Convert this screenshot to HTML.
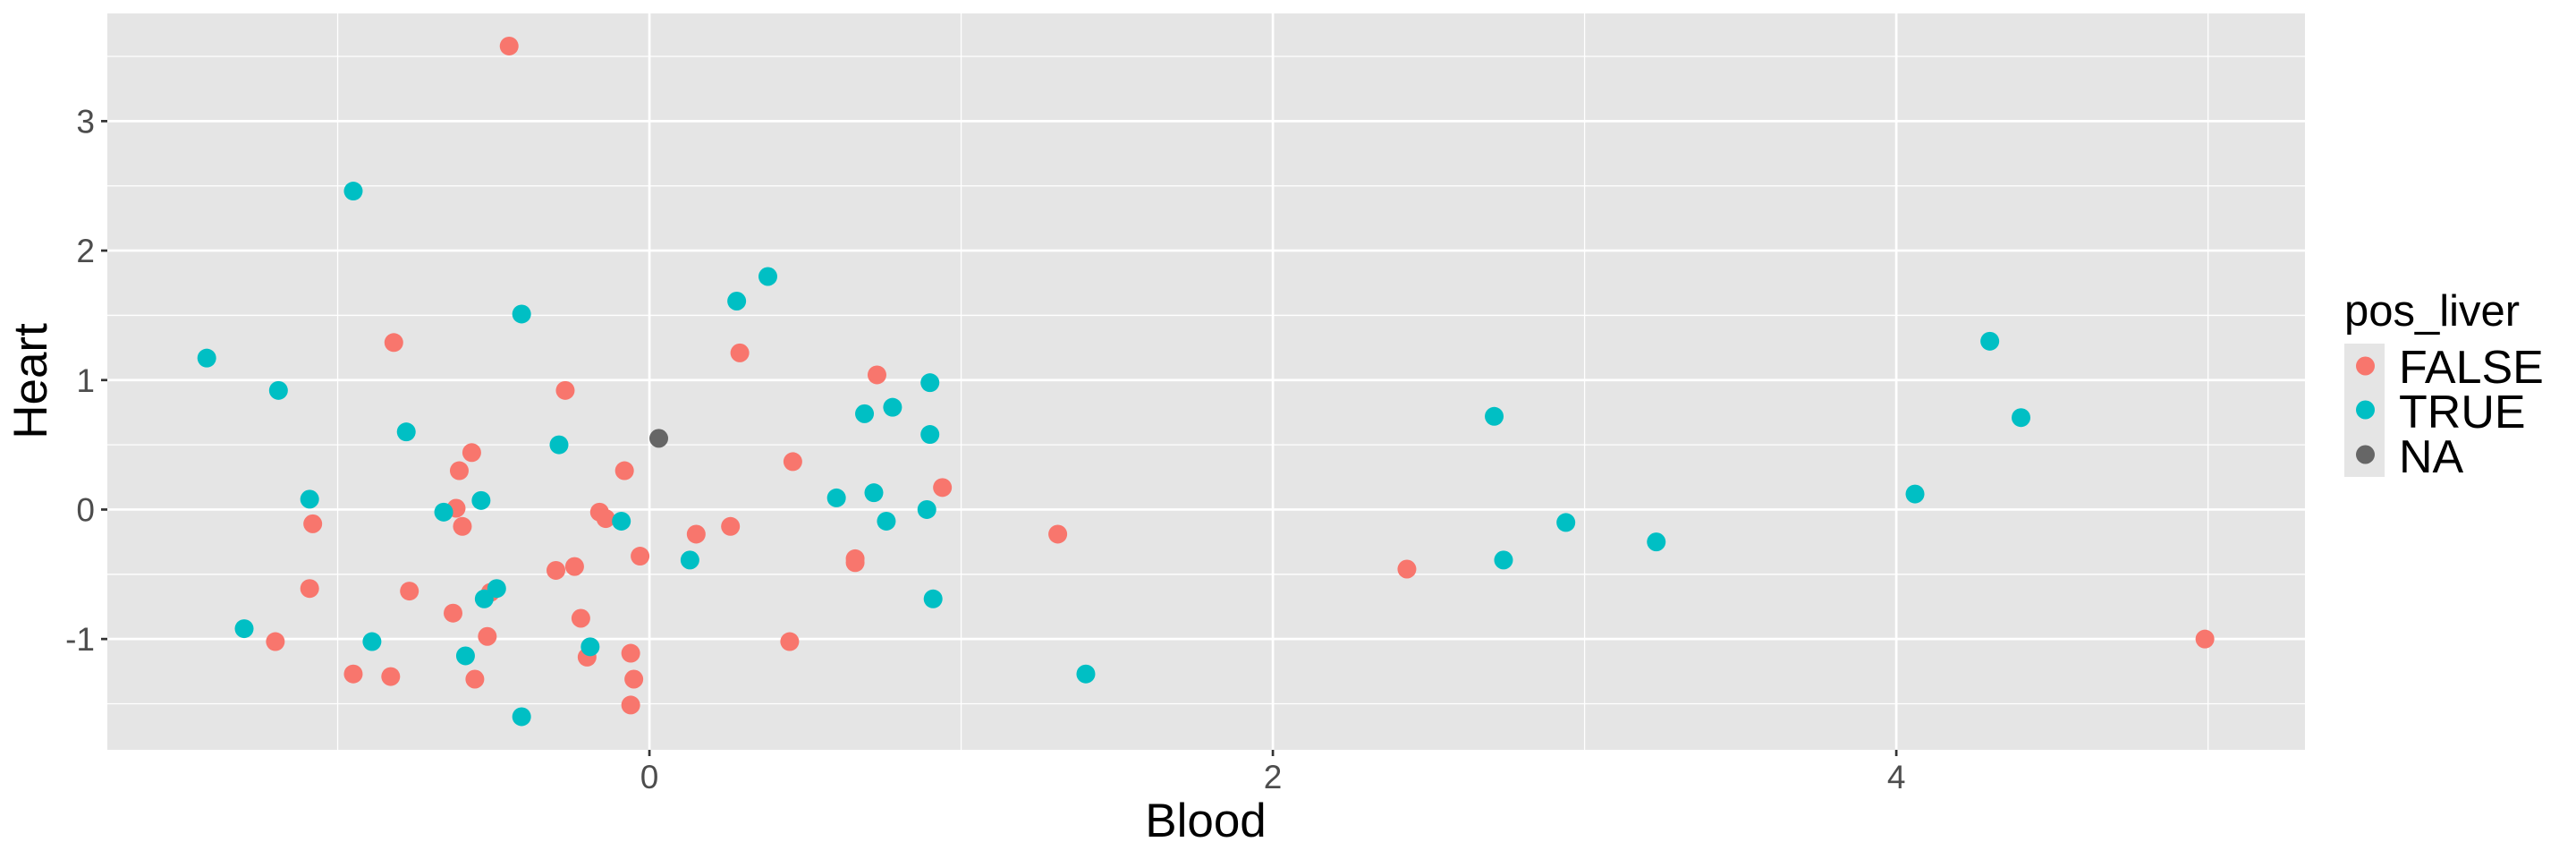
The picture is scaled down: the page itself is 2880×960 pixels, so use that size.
<!DOCTYPE html>
<html><head><meta charset="utf-8"><style>
html,body{margin:0;padding:0;background:#fff;}
svg{display:block;font-family:"Liberation Sans",Arial,sans-serif;}
</style></head><body>
<svg id="chart" width="2880" height="960" viewBox="0 0 2880 960" xmlns="http://www.w3.org/2000/svg">
<rect x="0" y="0" width="2880" height="960" fill="#fff"/>
<rect x="120" y="15" width="2457" height="823" fill="#e5e5e5"/>
<g id="grid"></g>
<g id="points"></g>
<g id="axes"></g>
<text x="1348" y="935" font-size="53" text-anchor="middle" fill="#000">Blood</text>
<text transform="translate(52,426) rotate(-90)" font-size="53" text-anchor="middle" fill="#000">Heart</text>
<g>
<text x="2621" y="364" font-size="49" fill="#000">pos_liver</text>
<rect x="2621" y="384" width="45" height="149" fill="#e5e5e5"/>
<circle cx="2644.5" cy="409" r="10.5" fill="#F8766D"/>
<circle cx="2644.5" cy="458" r="10.5" fill="#00BFC4"/>
<circle cx="2644.5" cy="508" r="10.5" fill="#666666"/>
<text x="2682" y="428" font-size="52" fill="#000">FALSE</text>
<text x="2682" y="478" font-size="52" fill="#000">TRUE</text>
<text x="2682" y="528" font-size="52" fill="#000">NA</text>
</g>
</svg>
<script>
const falseX = [-0.45,-0.82,-0.27,-0.57,-0.61,-0.08,-1.08,-1.09,-1.20,-0.95,-0.83,-0.77,-0.63,-0.62,-0.60,-0.52,-0.56,-0.51,-0.30,-0.24,-0.22,-0.20,-0.16,-0.14,-0.06,-0.05,-0.06,-0.03,0.15,0.26,0.29,0.46,0.45,0.66,0.66,0.73,0.94,1.31,2.43,4.99];
const falseY = [3.58,1.29,0.92,0.44,0.30,0.30,-0.11,-0.61,-1.02,-1.27,-1.29,-0.63,-0.80,0.01,-0.13,-0.98,-1.31,-0.64,-0.47,-0.44,-0.84,-1.14,-0.02,-0.07,-1.11,-1.31,-1.51,-0.36,-0.19,-0.13,1.21,0.37,-1.02,-0.38,-0.41,1.04,0.17,-0.19,-0.46,-1.00];
const trueX = [-1.42,-1.19,-0.95,-0.78,-1.09,-1.30,-0.89,-0.66,-0.54,-0.41,-0.29,-0.49,-0.53,-0.59,-0.41,-0.19,-0.09,0.13,0.28,0.38,0.60,0.69,0.72,0.76,0.78,0.90,0.90,0.89,0.91,1.40,2.71,2.74,2.94,3.23,4.30,4.40,4.06];
const trueY = [1.17,0.92,2.46,0.60,0.08,-0.92,-1.02,-0.02,0.07,1.51,0.50,-0.61,-0.69,-1.13,-1.60,-1.06,-0.09,-0.39,1.61,1.80,0.09,0.74,0.13,-0.09,0.79,0.98,0.58,0.00,-0.69,-1.27,0.72,-0.39,-0.10,-0.25,1.30,0.71,0.12];
const naX = [0.03];
const naY = [0.55];
const xTicks = [0,2,4];
const xTickLabels = ["0","2","4"];
const yTicks = [-1,0,1,2,3];
const yTickLabels = ["-1","0","1","2","3"];
const xMinor = [-1,1,3,5];
const yMinor = [-1.5,-0.5,0.5,1.5,2.5,3.5];

const L=120,R=2577,T=15,B=838;
const xMin=-1.739,xMax=5.311,yMin=-1.856,yMax=3.832;
const sx=v=>L+(v-xMin)/(xMax-xMin)*(R-L);
const sy=v=>B-(v-yMin)/(yMax-yMin)*(B-T);
const NS="http://www.w3.org/2000/svg";
function mk(tag,attrs,parent){const e=document.createElementNS(NS,tag);for(const k in attrs)e.setAttribute(k,attrs[k]);parent.appendChild(e);return e;}
const grid=document.getElementById('grid'),axes=document.getElementById('axes'),pts=document.getElementById('points');
yMinor.forEach(v=>{const e=mk('line',{x1:L,x2:R,y1:sy(v),y2:sy(v),stroke:'#fff','stroke-width':1.3},grid);

});
xMinor.forEach(v=>{const e=mk('line',{x1:sx(v),x2:sx(v),y1:T,y2:B,stroke:'#fff','stroke-width':1.3},grid);

});
yTicks.forEach((v,i)=>{const y=sy(v);
const g=mk('line',{x1:L,x2:R,y1:y,y2:y,stroke:'#fff','stroke-width':2.7},grid);


const t=mk('line',{x1:L-7,x2:L,y1:y,y2:y,stroke:'#333','stroke-width':2.7},axes);


const tx=mk('text',{x:L-14,y:y+13,'font-size':37,'text-anchor':'end',fill:'#4d4d4d'},axes);tx.textContent=yTickLabels[i];

});
xTicks.forEach((v,i)=>{const x=sx(v);
const g=mk('line',{x1:x,x2:x,y1:T,y2:B,stroke:'#fff','stroke-width':2.7},grid);


const t=mk('line',{x1:x,x2:x,y1:B,y2:B+7,stroke:'#333','stroke-width':2.7},axes);


const tx=mk('text',{x:x,y:881,'font-size':37,'text-anchor':'middle',fill:'#4d4d4d'},axes);tx.textContent=xTickLabels[i];

});
function series(xs,ys,col,name){xs.forEach((v,i)=>{const c=mk('circle',{cx:sx(v),cy:sy(ys[i]),r:10.5,fill:col},pts);

});}
series(falseX,falseY,'#F8766D','point-false');
series(trueX,trueY,'#00BFC4','point-true');
series(naX,naY,'#666666','point-na');
</script>
</body></html>
